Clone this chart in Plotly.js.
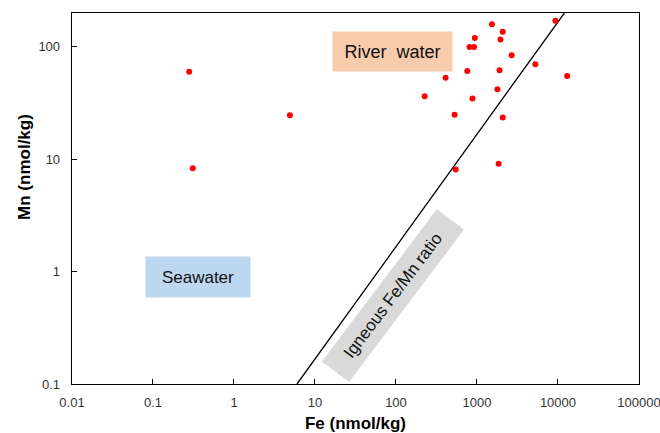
<!DOCTYPE html>
<html>
<head>
<meta charset="utf-8">
<script src="https://cdn.plot.ly/plotly-3.0.1.min.js"></script>
<style>html,body{margin:0;padding:0;background:#fff;}#chart{width:660px;height:433px;}</style>
</head>
<body>
<div id="chart"></div>
<script>
// Sample data
const feValues = [0.28, 0.31, 4.9, 1530, 2080, 940, 1950, 810, 920, 2680, 9300, 5260, 760, 1900, 13000, 410, 1790, 226, 880, 530, 2080, 1850, 546];
const mnValues = [60, 8.3, 24.6, 159, 136, 120, 116, 99.5, 99.5, 84, 171, 70, 61, 62, 55, 53, 42, 36.3, 34.7, 24.9, 23.5, 9.1, 8.1];
// Igneous Fe/Mn ratio line (Fe/Mn = 60)
const lineFe = [6, 12000];
const lineMn = [0.1, 200];
// Tick labels
const xTickVals = [0.01, 0.1, 1, 10, 100, 1000, 10000, 100000];
const xTickText = ['0.01', '0.1', '1', '10', '100', '1000', '10000', '100000'];
const yTickVals = [0.1, 1, 10, 100];
const yTickText = ['0.1', '1', '10', '100'];

const font = 'Liberation Sans, Arial, sans-serif';
const L = Math.log10;

const traces = [
  {x: lineFe, y: lineMn, mode: 'lines', line: {color: '#000', width: 1.3}, hoverinfo: 'skip'},
  {x: feValues, y: mnValues, mode: 'markers', marker: {color: '#FF0000', size: 6}}
];

const axisCommon = {
  type: 'log', showgrid: false, zeroline: false,
  showline: true, linecolor: '#000', linewidth: 1.3, mirror: true,
  ticks: 'inside', ticklen: 5, tickcolor: '#000', tickwidth: 1,
  ticklabeloverflow: 'allow',
  tickfont: {family: font, size: 13, color: '#333'}
};

const layout = {
  width: 660, height: 433,
  margin: {l: 72, r: 21, t: 13, b: 49},
  paper_bgcolor: '#fff', plot_bgcolor: '#fff',
  showlegend: false,
  xaxis: Object.assign({}, axisCommon, {
    range: [-2, 5.0005], tickmode: 'array', tickvals: xTickVals, ticktext: xTickText,
    ticklabelstandoff: 6, automargin: false,
    title: {text: '<b>Fe (nmol/kg)</b>', font: {family: font, size: 17, color: '#000'}, standoff: 8}
  }),
  yaxis: Object.assign({}, axisCommon, {
    range: [-1, L(200)], tickmode: 'array', tickvals: yTickVals, ticktext: yTickText,
    ticklabelstandoff: 8, automargin: false
  }),
  annotations: [
    {xref: 'paper', yref: 'paper', x: -0.083, y: 0.585, text: '<b>Mn (nmol/kg)</b>', textangle: -90,
     showarrow: false, font: {family: font, size: 17, color: '#000'}, xanchor: 'center', yanchor: 'middle'},
    {x: L(91), y: L(91), text: 'River  water', showarrow: false, bgcolor: '#F8CBAD',
     width: 111, height: 31, borderpad: 4, font: {family: font, size: 18, color: '#111'}},
    {x: L(0.356), y: L(0.887), text: 'Seawater', showarrow: false, bgcolor: '#BDD7EE',
     width: 96, height: 32, borderpad: 4, font: {family: font, size: 17, color: '#111'}},
    {x: L(92), y: L(0.612), text: 'Igneous Fe/Mn ratio', showarrow: false, bgcolor: '#D9D9D9',
     textangle: -53, width: 182, height: 25, borderpad: 4, font: {family: font, size: 17, color: '#111'}}
  ]
};

Plotly.newPlot('chart', traces, layout, {displayModeBar: false, staticPlot: true});
</script>
</body>
</html>
